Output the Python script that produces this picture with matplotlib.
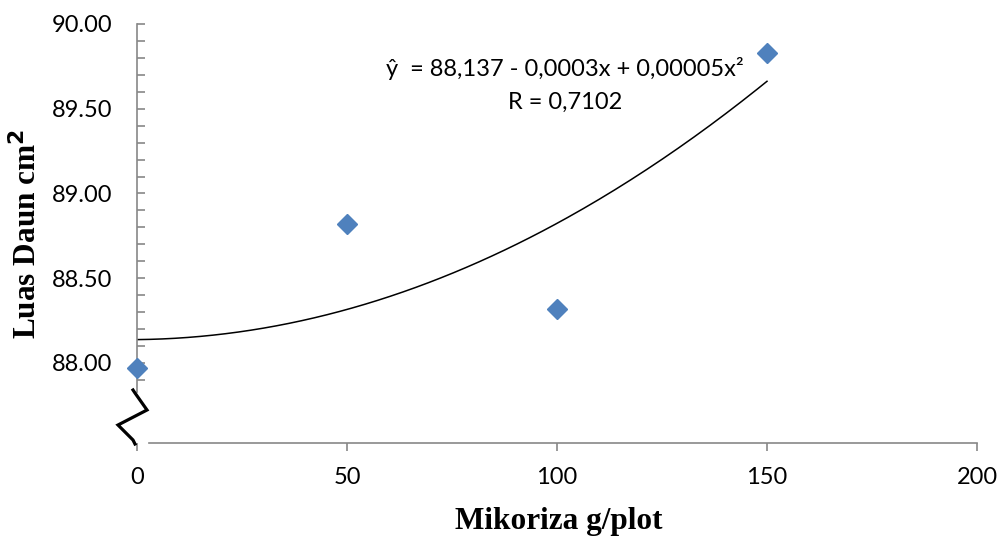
import numpy as np
import matplotlib.pyplot as plt
from matplotlib.lines import Line2D
from matplotlib.ticker import FixedLocator

# data
mikoriza = [0, 50, 100, 150]
luas_daun = [87.97, 88.82, 88.32, 89.83]

x_ticks = [0, 50, 100, 150, 200]
y_ticks = [88.0, 88.5, 89.0, 89.5, 90.0]

eq_text = "ŷ  = 88,137 - 0,0003x + 0,00005x²"
r_text = "R = 0,7102"

blue = "#4F81BD"
gray = "#878787"
tick_font = ["Lato", "DejaVu Sans"]

W, H = 1002, 538
fig = plt.figure(figsize=(W / 100, H / 100), dpi=100)
ax = fig.add_axes([137 / W, (H - 443) / H, 840 / W, 419 / H])

# quadratic trend line, fitted like the spreadsheet did
coef = np.polyfit(mikoriza, luas_daun, 2)
xs = np.linspace(0, 150, 200)
ax.plot(xs, np.polyval(coef, xs), color="black", lw=1.1, zorder=2)

ax.plot(mikoriza, luas_daun, linestyle="none", marker="D", ms=10.5,
        color=blue, zorder=3, clip_on=False)

ax.set_xlim(0, 200)
ax.set_ylim(87.528, 90.0)

for side in ["top", "right"]:
    ax.spines[side].set_visible(False)
for side in ["left", "bottom"]:
    ax.spines[side].set_color(gray)
    ax.spines[side].set_linewidth(1.2)
ax.spines["left"].set_bounds(87.83, 90.0)
ax.spines["bottom"].set_bounds(2.86, 200)

ax.set_xticks(x_ticks)
ax.set_xticklabels([str(v) for v in x_ticks])
ax.set_yticks(y_ticks)
ax.set_yticklabels(["%.2f" % v for v in y_ticks])
ax.yaxis.set_minor_locator(FixedLocator(np.arange(87.9, 90.001, 0.1)))

ax.tick_params(axis="y", which="both", direction="in", length=5.5,
               width=1.2, color=gray, pad=18)
ax.tick_params(axis="x", which="major", direction="out", length=6,
               width=1.2, color=gray, pad=11)
for lab in ax.get_xticklabels() + ax.get_yticklabels():
    lab.set_family(tick_font)
    lab.set_fontsize(17)

# axis titles
fig.text(559 / W, 1 - 521 / H, "Mikoriza g/plot", family="Liberation Serif",
         weight="bold", fontsize=22.5, ha="center", va="center")
fig.text(27 / W, 1 - 234 / H, "Luas Daun cm$^\\mathbf{2}$", family="Liberation Serif",
         weight="bold", fontsize=22.5, ha="center", va="center", rotation=90)

# equation
fig.text(565 / W, 1 - 68 / H, eq_text, family=tick_font, fontsize=17,
         ha="center", va="center")
fig.text(565 / W, 1 - 102 / H, r_text, family=tick_font, fontsize=17,
         ha="center", va="center")

# axis break mark
bx = np.array([133, 135, 147, 118, 133, 135])
by = np.array([390, 393, 410, 425, 440, 444])
fig.add_artist(Line2D(bx / W, 1 - by / H, transform=fig.transFigure,
                      color="black", lw=2.3, solid_joinstyle="miter"))

fig.savefig("out.png", dpi=100)
